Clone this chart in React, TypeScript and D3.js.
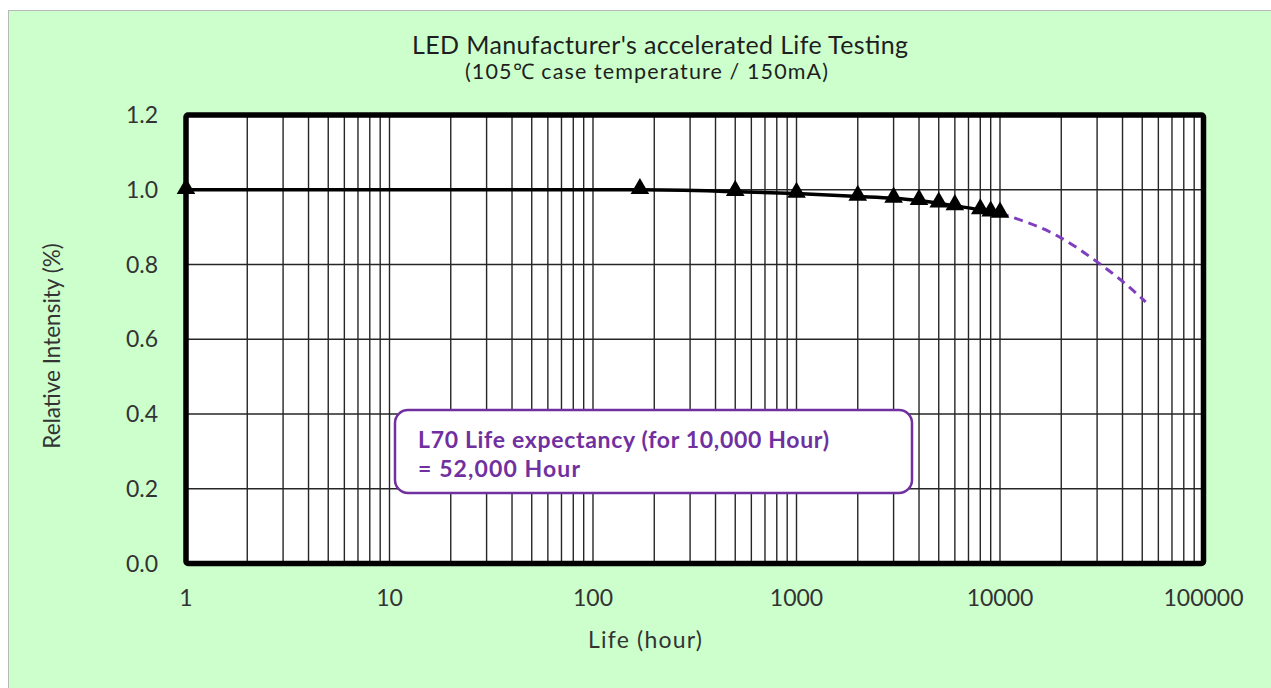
import React from "react";
import * as d3 from "d3";

const measuredHours = [1, 170, 500, 1000, 2000, 3000, 4000, 5000, 6000, 8000, 9000, 10000];
const measuredIntensity = [1.0, 1.0, 0.995, 0.99, 0.982, 0.977, 0.971, 0.964, 0.957, 0.946, 0.94, 0.937];
const projectedHours = [10000, 20000, 30000, 40000, 52000];
const projectedIntensity = [0.937, 0.871, 0.807, 0.755, 0.7];
const xTickValues = [1, 10, 100, 1000, 10000, 100000];
const xTickLabels = ["1", "10", "100", "1000", "10000", "100000"];
const yTickValues = [0, 0.2, 0.4, 0.6, 0.8, 1.0, 1.2];

const FONT = "Lato, 'Open Sans', sans-serif";

export default function App() {
  const W = 1271, H = 688;
  const left = 186, right = 1203.5, top = 115, bottom = 563.5;
  const x = d3.scaleLog().domain([1, 100000]).range([left, right]);
  const y = d3.scaleLinear().domain([0, 1.2]).range([bottom, top]);

  const minorX: number[] = [];
  for (let e = 0; e < 5; e++) {
    for (let k = 2; k <= 9; k++) minorX.push(k * Math.pow(10, e));
  }
  const allX = [...minorX, 10, 100, 1000, 10000];

  const measured = measuredHours.map((h, i) => [h, measuredIntensity[i]] as [number, number]);
  const projected = projectedHours.map((h, i) => [h, projectedIntensity[i]] as [number, number]);
  const line = d3.line<[number, number]>().x(d => x(d[0])).y(d => y(d[1])).curve(d3.curveMonotoneX);
  const tri = d3.symbol().type(d3.symbolTriangle).size(150)();

  return (
    <svg width={W} height={H} style={{ position: "absolute", left: 0, top: 0, display: "block" }}>
      <rect x={0} y={0} width={W} height={H} fill="#ffffff" />
      <rect x={8.5} y={10.5} width={W + 10} height={H + 10} fill="#CCFFCC" stroke="#b8b8b8" strokeWidth={1} />
      <text x={412} y={54} fontFamily={FONT} fontSize={25} fill="#1e1e1e" textLength={496} lengthAdjust="spacing">
        LED Manufacturer's accelerated Life Testing
      </text>
      <text x={465} y={79} fontFamily={FONT} fontSize={21.5} fill="#1e1e1e" textLength={363} lengthAdjust="spacing">
        (105℃ case temperature / 150mA)
      </text>
      <rect x={left} y={top} width={right - left} height={bottom - top} fill="#ffffff" />
      {allX.map((v, i) => (
        <line key={"vx" + i} x1={x(v)} x2={x(v)} y1={top} y2={bottom} stroke="#262626" strokeWidth={1.4} />
      ))}
      {yTickValues.slice(1, -1).map((v, i) => (
        <line key={"hy" + i} x1={left} x2={right} y1={y(v)} y2={y(v)} stroke="#262626" strokeWidth={1.4} />
      ))}
      <rect x={left} y={top} width={right - left} height={bottom - top} fill="none" stroke="#000" strokeWidth={5.5} rx={2} />
      <path d={line(measured) || ""} fill="none" stroke="#000" strokeWidth={3.5} />
      <path d={line(projected) || ""} fill="none" stroke="#7e3fbf" strokeWidth={3} strokeDasharray="9 6" />
      {measured.map((d, i) => (
        <path key={"t" + i} d={tri || ""} transform={`translate(${x(d[0])},${y(d[1]) - 1})`} fill="#000" />
      ))}
      {yTickValues.map((v, i) => (
        <text key={"yt" + i} x={158} y={y(v)} dy="0.35em" textAnchor="end" fontFamily={FONT} fontSize={23} fill="#333">
          {v.toFixed(1)}
        </text>
      ))}
      {xTickValues.map((v, i) => (
        <text key={"xt" + i} x={x(v)} y={598} dy="0.35em" textAnchor="middle" fontFamily={FONT} fontSize={23} fill="#333">
          {xTickLabels[i]}
        </text>
      ))}
      <text x={588} y={648} fontFamily={FONT} fontSize={23} fill="#333" textLength={114} lengthAdjust="spacing">Life (hour)</text>
      <text transform="translate(60,346) rotate(-90)" textAnchor="middle" fontFamily={FONT} fontSize={22.5} fill="#333">
        Relative Intensity (%)
      </text>
      <rect x={395} y={410} width={517} height={83} rx={13} fill="#fff" stroke="#7030a0" strokeWidth={2.5} />
      <text x={418} y={448} fontFamily={FONT} fontSize={23} fontWeight="bold" fill="#7030a0" textLength={411} lengthAdjust="spacing">
        L70 Life expectancy (for 10,000 Hour)
      </text>
      <text x={418} y={477} fontFamily={FONT} fontSize={23} fontWeight="bold" fill="#7030a0" textLength={162} lengthAdjust="spacing">
        = 52,000 Hour
      </text>
    </svg>
  );
}
